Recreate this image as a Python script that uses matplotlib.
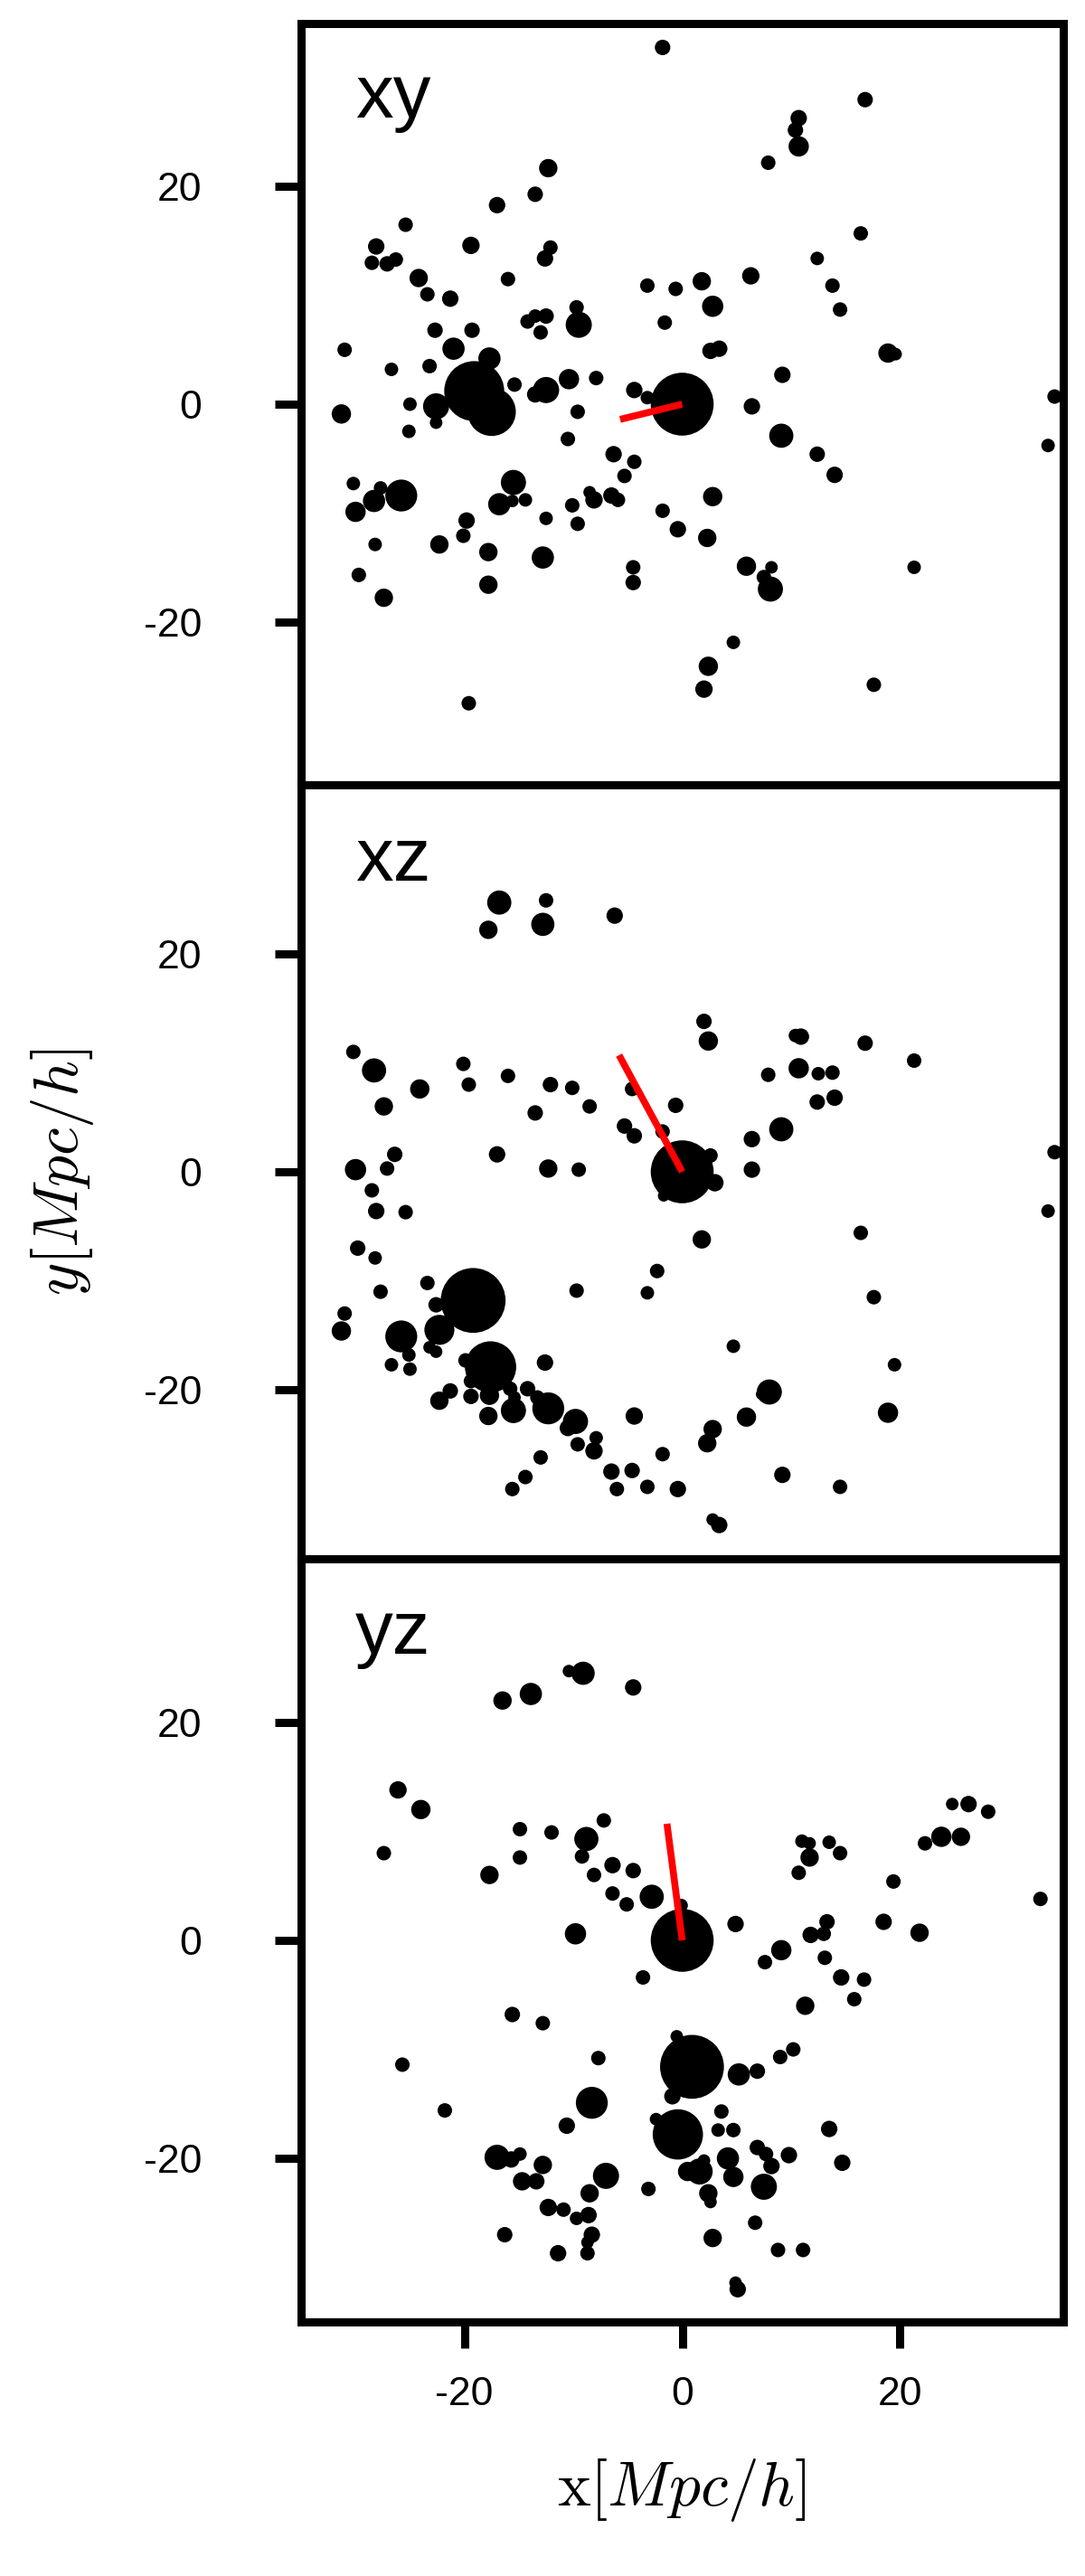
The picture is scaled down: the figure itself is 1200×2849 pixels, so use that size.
import numpy as np
import matplotlib
matplotlib.use("Agg")
import matplotlib.pyplot as plt

plt.rcParams['font.family'] = ['Liberation Sans', 'DejaVu Sans']
plt.rcParams['mathtext.fontset'] = 'cm'
plt.rcParams['axes.unicode_minus'] = False

# halo positions (Mpc/h) and marker diameters (px)
xy_x = [-1.8, -12.3, -13.5, -17.0, -25.4, -28.1, -19.4, -12.1, -12.6, -28.5, -27.1, -26.3, -24.2, -16.0, -23.4, -21.3,
        -3.2, -0.6, -9.7, -9.5, -1.6, -14.2, -13.5, -12.5, -13.0, -22.7, -19.3, -21.0, -31.0, -26.7, -23.2, -17.7,
        -19.1, -17.5, -22.6, -22.6, -15.4, -12.5, -13.5, -10.4, -7.9, -4.4, -3.2, -25.0, -31.3, -9.6, -25.1, -10.5,
        -6.3, -4.4, -5.3, -30.2, -27.7, -28.3, -25.8, -30.0, -15.5, -16.8, -15.6, -14.4, -12.5, -10.1, -9.6, -8.5,
        -8.1, -6.5, -5.9, -1.8, -0.4, -19.8, -20.1, -28.2, -22.3, -17.8, -12.8, -29.7, -17.8, -4.5, -4.5, -27.4,
        -19.6, 16.8, 10.7, 10.4, 10.7, 7.9, 16.4, 12.4, 1.8, 6.3, 13.8, 14.5, 2.8, 2.6, 3.4, 18.9, 19.6, 9.2, 6.4,
        34.2, 33.6, 9.1, 12.4, 14.0, 2.8, 2.3, 5.9, 8.2, 7.5, 8.1, 21.3, 4.7, 2.4, 2.0, 17.6, 0.0]
xy_y = [32.8, 21.7, 19.3, 18.3, 16.5, 14.5, 14.6, 14.4, 13.4, 13.0, 12.9, 13.3, 11.6, 11.5, 10.1, 9.7,
        10.9, 10.6, 8.9, 7.3, 7.5, 7.6, 8.1, 8.1, 6.6, 6.8, 6.8, 5.1, 5.0, 3.2, 3.5, 4.2,
        1.2, -0.7, -0.2, -1.7, 1.8, 1.3, 0.9, 2.3, 2.4, 1.3, 0.6, 0.0, -0.9, -0.7, -2.5, -3.2,
        -4.6, -5.3, -6.6, -7.3, -7.7, -8.9, -8.4, -9.9, -7.2, -9.2, -8.9, -8.8, -10.5, -9.3, -11.0, -8.1,
        -8.8, -8.4, -8.8, -9.8, -11.5, -10.7, -12.1, -12.9, -12.9, -13.6, -14.1, -15.7, -16.6, -15.0, -16.4, -17.8,
        -27.5, 28.0, 26.3, 25.2, 23.7, 22.2, 15.7, 13.4, 11.3, 11.8, 10.9, 8.7, 9.0, 4.9, 5.1, 4.7, 4.6, 2.7, -0.2,
        0.7, -3.8, -2.9, -4.6, -6.5, -8.5, -12.3, -14.9, -15.0, -15.9, -17.0, -15.0, -21.9, -24.1, -26.2, -25.8, 0.0]
xy_d = [16, 19, 16, 17, 15, 17, 18, 15, 17, 15, 16, 15, 19, 15, 15, 17,
        15, 15, 15, 27, 15, 15, 14, 16, 15, 16, 16, 23, 15, 14, 15, 23,
        62, 50, 27, 13, 15, 27, 17, 21, 15, 17, 14, 14, 20, 15, 14, 15,
        17, 15, 15, 14, 14, 23, 33, 21, 26, 23, 13, 14, 14, 15, 15, 13,
        18, 17, 15, 15, 17, 17, 15, 14, 19, 19, 23, 15, 19, 15, 16, 19,
        15, 16, 17, 16, 21, 15, 15, 14, 19, 18, 15, 15, 22, 17, 17, 20, 13, 17, 17,
        15, 14, 25, 16, 17, 20, 19, 20, 13, 15, 26, 14, 14, 20, 18, 15, 65]

xz_x = [-16.8, -12.5, -17.8, -12.8, -6.2, -30.2, -28.3, -20.1, -16.0, -19.6, -24.1, -12.1, -10.1, -27.4, -13.5, -8.5,
        -4.6, -0.6, -5.3, -4.4, -1.8, -30.0, -26.4, -27.1, -17.0, -12.3, -9.5, 2.0, 2.4, 10.4, 10.9, 16.8,
        21.3, 7.9, 10.7, 12.5, 13.8, 12.4, 14.0, 9.1, 6.4, 6.4, 2.6, 34.2, 3.0, 33.6, 1.8, 16.4,
        17.6, 4.7, 19.5, 8.0, 7.3, 5.9, 18.9, 2.8, 2.3, 9.2, 14.5, 2.8, 3.4, -28.5, -28.1, -25.4,
        -29.8, -28.2, -23.4, -27.7, -19.2, -22.6, -9.7, -2.3, -3.2, -31.0, -31.3, -25.8, -22.3, -23.2, -22.6, -25.1,
        -26.7, -25.0, -17.6, -19.9, -19.4, -12.6, -21.3, -22.3, -19.4, -17.7, -15.8, -15.4, -17.8, -15.5, -14.2, -13.3,
        -12.3, -9.8, -10.5, -7.9, -9.6, -8.1, -4.4, -1.8, -13.0, -14.4, -15.6, -6.5, -4.6, -6.0, -3.2, -0.4,
        -1.7, 0.0]
xz_z = [24.7, 24.9, 22.2, 22.7, 23.5, 11.0, 9.3, 9.9, 8.8, 8.0, 7.6, 8.0, 7.7, 6.0, 5.4, 6.0,
        7.6, 6.1, 4.2, 3.3, 3.7, 0.2, 1.6, 0.3, 1.6, 0.3, 0.2, 13.8, 12.0, 12.5, 12.4, 11.8,
        10.2, 8.9, 9.5, 9.0, 9.1, 6.4, 6.8, 3.9, 3.0, 0.2, 1.5, 1.8, -1.0, -3.6, -6.2, -5.6,
        -11.5, -16.0, -17.7, -20.2, -20.4, -22.5, -22.1, -23.6, -24.9, -27.8, -28.9, -31.9, -32.4, -1.7, -3.6, -3.7,
        -7.0, -7.9, -10.2, -11.0, -11.8, -12.2, -10.9, -9.1, -11.1, -13.0, -14.6, -15.1, -14.5, -16.1, -16.5, -16.8,
        -17.7, -18.1, -17.9, -17.3, -19.2, -17.5, -20.1, -21.0, -20.6, -20.5, -19.9, -20.7, -22.4, -21.9, -19.9, -20.7,
        -21.7, -22.9, -23.5, -24.4, -25.0, -25.6, -22.4, -25.9, -26.2, -28.0, -29.1, -27.5, -27.4, -29.1, -28.9, -29.1,
        -2.2, 0.0]
xz_d = [25, 15, 19, 24, 17, 15, 25, 15, 15, 15, 20, 16, 15, 19, 16, 15,
        15, 16, 16, 16, 15, 22, 16, 15, 17, 19, 15, 16, 20, 14, 17, 16,
        15, 15, 21, 14, 15, 16, 17, 25, 17, 17, 15, 15, 18, 14, 19, 15,
        15, 14, 14, 26, 12, 20, 21, 19, 19, 17, 15, 13, 17, 15, 17, 15,
        16, 14, 15, 15, 67, 16, 15, 15, 14, 15, 20, 33, 31, 13, 13, 14,
        14, 14, 53, 15, 15, 17, 16, 19, 16, 20, 15, 13, 19, 26, 16, 15,
        33, 26, 17, 14, 15, 18, 18, 15, 15, 15, 15, 17, 16, 15, 15, 17,
        12, 65]

yz_y = [-16.5, -13.9, -10.4, -9.1, -4.5, -26.1, -24.0, -27.4, -14.9, -12.0, -8.8, -7.2, -14.9, -9.2, -17.7, -8.1,
        -6.4, -4.5, -6.4, -5.1, -2.8, -0.1, -9.8, 24.8, 26.3, 28.1, 23.8, 25.6, 22.3, 11.0, 11.7, 11.7,
        13.5, 14.5, 10.7, 19.4, 32.9, 4.9, 13.3, 11.8, 13.0, 18.5, 21.8, 9.1, 7.6, 13.1, 14.6, 16.7,
        15.8, 11.3, 10.2, 9.0, 0.9, -0.4, -0.5, -0.9, -2.4, 1.6, 2.0, 0.5, 2.4, 2.6, 3.6, 3.3,
        4.7, 5.2, 6.9, 4.2, 4.7, 6.9, 7.7, 8.2, 9.8, 7.5, 13.5, 14.7, 6.7, 2.8, 8.8, 11.1,
        4.9, 5.1, -3.6, -15.6, -12.8, -25.7, -7.7, -21.8, -8.3, -10.6, -17.0, -15.7, -14.9, -12.8, -14.7, -13.4,
        -7.0, -8.5, -3.1, -12.3, -10.9, -9.7, -8.6, -8.3, -8.7, -8.7, -11.4, -16.3, 0.0]
yz_z = [22.0, 22.6, 24.7, 24.5, 23.2, 13.8, 12.0, 8.0, 10.2, 9.9, 9.3, 11.0, 7.6, 7.7, 6.0, 6.0,
        6.9, 6.4, 4.3, 3.3, 4.0, 3.2, 0.6, 12.5, 12.5, 11.8, 9.5, 9.5, 8.9, 9.1, 8.9, 7.6,
        9.0, 8.0, 6.2, 5.4, 3.8, 1.5, 1.7, 0.5, 0.6, 1.7, 0.7, -0.9, -2.0, -1.6, -3.4, -3.6,
        -5.4, -6.0, -10.0, -10.7, -11.6, -17.8, -8.8, -14.3, -16.4, -21.2, -20.2, -21.2, -23.2, -24.0, -15.7, -17.4,
        -17.4, -12.3, -12.0, -20.0, -21.7, -19.0, -19.6, -20.7, -19.7, -22.6, -17.3, -20.4, -25.9, -27.3, -28.4, -28.4,
        -31.4, -32.0, -3.4, -6.8, -7.6, -11.4, -10.8, -15.6, -14.9, -17.0, -19.9, -20.1, -19.6, -20.6, -22.1, -22.1,
        -21.6, -23.2, -22.8, -24.5, -24.7, -25.5, -25.2, -27.0, -27.7, -28.7, -28.7, -27.0, 0.0]
yz_d = [19, 23, 13, 24, 17, 18, 20, 15, 15, 15, 25, 15, 15, 15, 19, 15,
        17, 16, 15, 15, 25, 14, 22, 13, 17, 15, 21, 19, 15, 14, 13, 19,
        14, 15, 15, 15, 15, 17, 16, 17, 15, 17, 19, 21, 15, 15, 17, 15,
        15, 19, 15, 15, 66, 52, 13, 17, 13, 27, 13, 20, 19, 13, 15, 14,
        15, 23, 16, 23, 21, 16, 15, 17, 17, 27, 17, 17, 15, 19, 15, 15,
        13, 17, 15, 16, 15, 15, 15, 15, 33, 17, 26, 17, 14, 19, 19, 17,
        27, 19, 15, 18, 15, 14, 17, 17, 13, 15, 17, 16, 65]

# projected direction of the central halo (end point of the red segment)
dir_x = [-5.7, -5.8, -1.4]
dir_y = [-1.4, 10.7, 10.7]

panels = [("xy", xy_x, xy_y, xy_d), ("xz", xz_x, xz_z, xz_d), ("yz", yz_y, yz_z, yz_d)]
ylims = [(-35, 35), (-35.5, 35.5), (-35, 35)]

W, H, dpi = 1200, 2849, 100
fig = plt.figure(figsize=(W / dpi, H / dpi), dpi=dpi)
rects = [(26, 868), (868, 1724), (1724, 2568)]
axes = []
for i, (name, px, py, pd) in enumerate(panels):
    top, bot = rects[i]
    ax = fig.add_axes([333 / W, (H - bot) / H, 843 / W, (bot - top) / H])
    d = np.array(pd, dtype=float) * 1.07
    ax.scatter(px, py, s=(d * 72 / dpi) ** 2, c='black', linewidths=0, zorder=2)
    ax.plot([0, dir_x[i]], [0, dir_y[i]], color='red', lw=5.5, solid_capstyle='butt', zorder=3)
    ax.set_xlim(-35, 35)
    ax.set_ylim(*ylims[i])
    ax.set_yticks([-20, 0, 20])
    ax.set_xticks([-20, 0, 20])
    ax.text(0.071, 0.876, name, transform=ax.transAxes, fontsize=60, va='baseline')
    for sp in ax.spines.values():
        sp.set_linewidth(6.5)
    ax.tick_params(direction='out', length=21, width=6.5, labelsize=32, pad=58,
                   top=False, right=False)
    ax.tick_params(axis='x', pad=22)
    if i < 2:
        ax.tick_params(axis='x', bottom=False, labelbottom=False)
    axes.append(ax)

fig.text(69 / W, 1 - 1296 / H, r'$y[Mpc/h]$', fontsize=50, rotation=90, ha='center', va='center')
fig.text(754 / W, 1 - 2754 / H, r'$\mathrm{x}[Mpc/h]$', fontsize=50, ha='center', va='center')

fig.savefig('out.png', dpi=dpi)
